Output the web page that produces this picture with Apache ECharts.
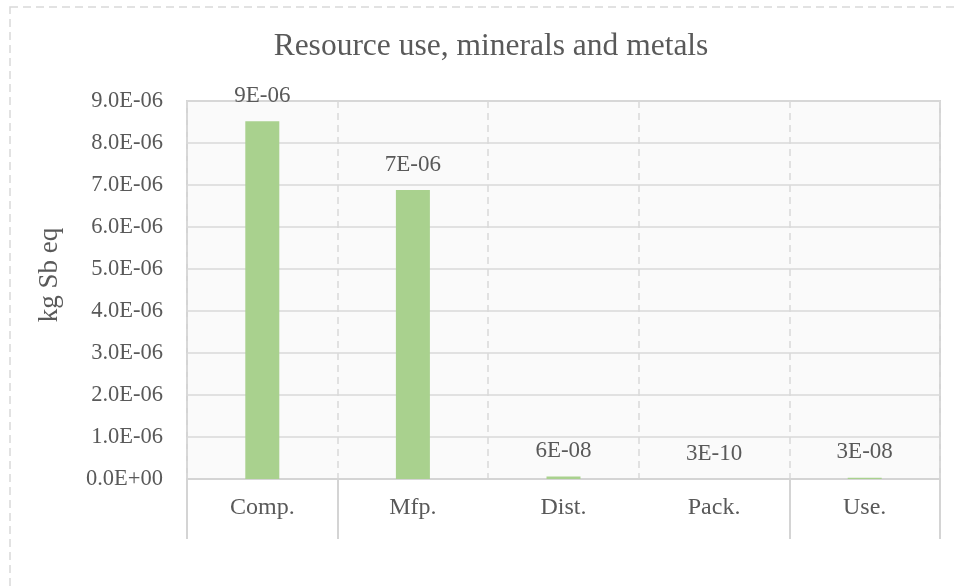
<!DOCTYPE html>
<html>
<head>
<meta charset="utf-8">
<script src="https://cdn.jsdelivr.net/npm/echarts@6/dist/echarts.min.js"></script>
<style>
  html, body { margin: 0; padding: 0; background: #ffffff; }
  #chart { width: 958px; height: 586px; }
</style>
</head>
<body>
<div id="chart"></div>
<script>
// Life-cycle stages and their mineral/metal resource use (kg Sb eq)
const stages = ['Comp.', 'Mfp.', 'Dist.', 'Pack.', 'Use.'];
const resourceUse = [8.52e-6, 6.88e-6, 6e-8, 3e-10, 3e-8];
const yTicks = { min: 0, max: 9e-6, step: 1e-6 };

const FONT = 'Liberation Serif';
const TEXT = '#595959';
const GRID = '#d9d9d9';

// "8.5e-6" -> "9E-06" style, exponent padded to two digits
function sci(v, digits) {
  const s = Number(v).toExponential(digits);
  const [m, e] = s.split('e');
  const sign = e[0] === '-' ? '-' : '+';
  const exp = e.replace(/[+-]/, '').padStart(2, '0');
  return m + 'E' + sign + exp;
}

const chart = echarts.init(document.getElementById('chart'), null, { renderer: 'canvas' });

chart.setOption({
  animation: false,
  backgroundColor: '#ffffff',
  title: {
    text: 'Resource use, minerals and metals',
    left: 486,
    textAlign: 'center',
    top: 26,
    textStyle: { fontFamily: FONT, fontSize: 31.5, fontWeight: 'normal', color: TEXT }
  },
  grid: {
    left: 187, right: 18, top: 101, bottom: 107,
    show: true,
    backgroundColor: '#fafafa',
    borderColor: '#d4d4d4',
    borderWidth: 2
  },
  xAxis: {
    type: 'category',
    data: stages,
    boundaryGap: true,
    axisLine: { show: true, lineStyle: { color: '#d4d4d4', width: 2 } },
    axisTick: {
      show: true,
      length: 60,
      // stage dividers below the axis
      interval: (i) => i === 0 || i === 1 || i === 4,
      lineStyle: { color: '#d4d4d4', width: 2 }
    },
    axisLabel: { margin: 17, fontFamily: FONT, fontSize: 24, color: TEXT },
    splitLine: { show: true, interval: 0, lineStyle: { color: GRID, type: [7, 5], width: 1.5 } }
  },
  yAxis: {
    type: 'value',
    min: yTicks.min,
    max: yTicks.max,
    interval: yTicks.step,
    axisLine: { show: false },
    axisTick: { show: false },
    axisLabel: {
      margin: 24,
      fontFamily: FONT, fontSize: 22.5, color: TEXT,
      formatter: (v) => sci(v, 1)
    },
    splitLine: { show: true, lineStyle: { color: GRID, width: 1.5 } }
  },
  series: [{
    type: 'bar',
    data: resourceUse,
    barWidth: 34,
    itemStyle: { color: '#a9d18e' },
    label: {
      show: true,
      position: 'top',
      distance: 14,
      fontFamily: FONT, fontSize: 23, color: TEXT,
      formatter: (p) => sci(p.value, 0)
    }
  }],
  graphic: [
    {
      type: 'rect',
      shape: { x: 10, y: 7, width: 970, height: 600 },
      style: { fill: null, stroke: GRID, lineWidth: 1.5, lineDash: [8, 5] },
      silent: true, z: -1
    },
    {
      type: 'text',
      x: 50, y: 275,
      rotation: Math.PI / 2,
      style: {
        text: 'kg Sb eq',
        font: '27px "Liberation Serif"',
        fill: TEXT,
        align: 'center',
        verticalAlign: 'middle'
      }
    }
  ]
});
</script>
</body>
</html>
